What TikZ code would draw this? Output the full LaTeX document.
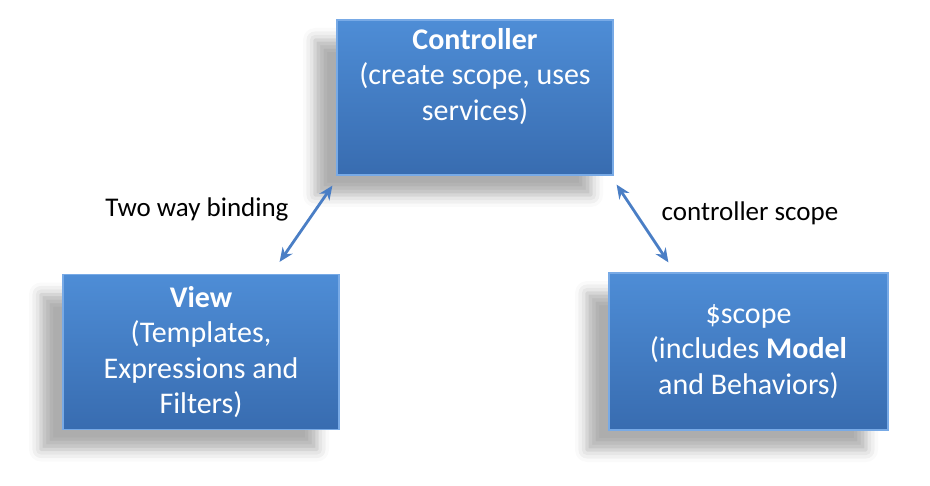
\documentclass[tikz,border=0pt]{standalone}
\usepackage{fontspec}
\setmainfont{Carlito}
\usetikzlibrary{shadows.blur,arrows.meta}

\definecolor{boxtop}{RGB}{78,141,214}
\definecolor{boxbot}{RGB}{56,108,176}
\definecolor{boxedge}{RGB}{120,170,230}
\definecolor{linkblue}{RGB}{74,126,197}

\tikzset{
  mvcbox/.style={draw=boxedge, line width=1.2pt, top color=boxtop, bottom color=boxbot,
    minimum width=276pt, minimum height=155pt, inner sep=0pt,
    text=white, align=center, font=\fontsize{30}{35.5}\selectfont,
    blur shadow={shadow xshift=-22pt, shadow yshift=-20pt, shadow blur radius=12pt, shadow opacity=32}},
  twoway/.style={{Stealth[length=14pt,width=12pt]}-{Stealth[length=14pt,width=12pt]}, line width=2.8pt, linkblue},
  linklabel/.style={font=\fontsize{27}{32}\selectfont, text=black}
}

\begin{document}
\begin{tikzpicture}[x=1pt, y=1pt]
  % bounding box of the picture
  \useasboundingbox (0,0) rectangle (930,-486);

  % 1. the three boxes
  \node[mvcbox] (ctrl)  at (475,-97.5) {\textbf{Controller}\\(create scope, uses\\services)\\\strut};
  \node[mvcbox] (view)  at (201,-352)  {\textbf{View}\\(Templates,\\Expressions and\\Filters)};
  \node[mvcbox, minimum width=279pt, minimum height=157pt] (scope) at (748.5,-351.5) {\$scope\\(includes \textbf{Model}\\and Behaviors)};

  % 2. bindings
  \draw[twoway] ([shift={(-4,-10)}]ctrl.south west) -- ([shift={(-60,12)}]view.north east);
  \draw[twoway] ([shift={(3,-9)}]ctrl.south east) -- ([shift={(60,10)}]scope.north west);

  % 3. labels
  \node[linklabel] (bindlbl)  at (197,-209) {Two way binding};
  \node[linklabel] (scopelbl) at (750,-213) {controller scope};
\end{tikzpicture}
\end{document}
